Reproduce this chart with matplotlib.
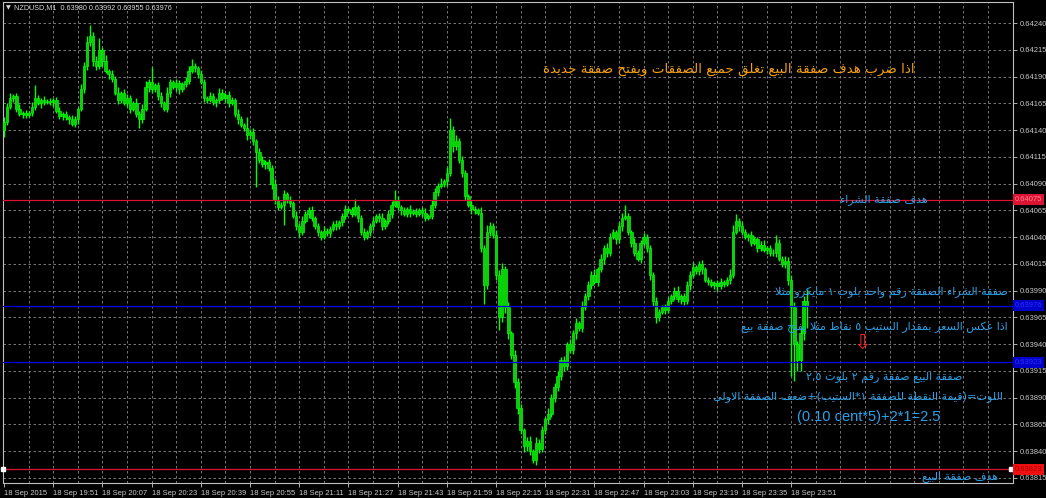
import re
import numpy as np
import matplotlib
matplotlib.use('Agg')
import matplotlib.pyplot as plt

# NZDUSD M1, 18 Sep 2015 19:35 .. 23:56, prices in points (1e-5)
closes = [
    64148, 64162, 64170, 64172, 64160, 64155, 64156, 64154, 64156, 64162,
    64170, 64165, 64168, 64166, 64167, 64166, 64168, 64158, 64153, 64155,
    64152, 64150, 64146, 64150, 64160, 64178, 64200, 64222, 64228, 64205,
    64200, 64215, 64205, 64195, 64192, 64188, 64175, 64168, 64175, 64165,
    64170, 64160, 64165, 64155, 64150, 64160, 64180, 64185, 64178, 64182,
    64172, 64165, 64160, 64175, 64185, 64180, 64184, 64178, 64183, 64186,
    64195, 64200, 64198, 64192, 64185, 64170, 64168, 64172, 64166, 64168,
    64175, 64170, 64173, 64165, 64168, 64155, 64150, 64145, 64142, 64135,
    64138, 64130, 64120, 64112, 64108, 64110, 64105, 64090, 64075, 64068,
    64070, 64080, 64075, 64072, 64060, 64050, 64045, 64055, 64062, 64065,
    64058, 64050, 64045, 64040, 64046, 64044, 64048, 64052, 64050, 64054,
    64060, 64066, 64065, 64062, 64068, 64058, 64045, 64040, 64045, 64050,
    64055, 64060, 64058, 64050, 64055, 64062, 64070, 64075, 64068, 64065,
    64062, 64066, 64063, 64064, 64062, 64065, 64063, 64058, 64060, 64070,
    64082, 64088, 64090, 64092, 64100, 64140, 64125, 64130, 64112, 64100,
    64078, 64070, 64066, 64065, 64063, 64030, 63995, 64045, 64050, 64042,
    64005, 63965, 64010, 63975, 63950, 63930, 63905, 63880, 63860, 63845,
    63850, 63840, 63832, 63848, 63842, 63860, 63870, 63875, 63890, 63900,
    63910, 63925, 63920, 63940, 63935, 63950, 63960, 63955, 63975, 63985,
    63995, 64005, 63998, 64010, 64020, 64030, 64025, 64040, 64045, 64038,
    64050, 64058, 64060, 64045, 64035, 64025, 64020, 64035, 64040, 64030,
    64005, 63980, 63965, 63970, 63975, 63972, 63980, 63985, 63990, 63982,
    63985, 63980, 63995, 64005, 64012, 64008, 64015, 64010, 64000, 63998,
    63995, 63997, 63994, 63998, 63996, 64000, 64005, 64045, 64055, 64050,
    64045, 64040, 64042, 64035, 64038, 64030, 64033, 64028, 64030, 64025,
    64025, 64035, 64020, 64015, 64018, 64000, 63975, 63940, 63925, 63950,
    63980, 63976,
]
up_wick = [
    4, 3, 5, 2, 3, 4, 2, 3, 2, 4,
    12, 3, 2, 4, 2, 3, 2, 3, 4, 2,
    3, 2, 4, 3, 2, 5, 4, 6, 10, 4,
    4, 11, 3, 5, 2, 4, 3, 5, 2, 3,
    4, 3, 2, 5, 3, 4, 6, 3, 14, 2,
    3, 4, 2, 5, 3, 2, 4, 3, 2, 4,
    5, 6, 3, 2, 4, 3, 2, 4, 3, 2,
    4, 3, 2, 4, 3, 2, 5, 3, 2, 10,
    3, 4, 2, 3, 4, 2, 3, 2, 4, 3,
    3, 4, 2, 3, 2, 4, 3, 5, 2, 3,
    4, 2, 3, 2, 4, 3, 2, 3, 4, 2,
    3, 4, 2, 3, 8, 2, 3, 4, 2, 3,
    4, 2, 3, 5, 2, 3, 4, 9, 3, 2,
    3, 2, 4, 2, 3, 2, 3, 4, 2, 5,
    4, 3, 5, 2, 6, 11, 4, 5, 3, 4,
    3, 2, 4, 3, 2, 5, 3, 6, 4, 3,
    5, 4, 6, 3, 4, 2, 5, 3, 4, 2,
    3, 4, 2, 5, 3, 4, 2, 5, 3, 4,
    5, 3, 4, 2, 5, 3, 4, 2, 5, 3,
    4, 3, 5, 2, 4, 3, 5, 4, 3, 2,
    4, 5, 10, 3, 2, 4, 3, 2, 4, 3,
    3, 2, 4, 3, 2, 3, 4, 2, 3, 4,
    2, 3, 4, 3, 5, 2, 3, 4, 2, 3,
    3, 2, 3, 4, 2, 3, 5, 6, 7, 3,
    4, 3, 2, 4, 3, 2, 3, 4, 2, 3,
    4, 7, 3, 2, 4, 3, 5, 4, 3, 6,
    5, 12,
]
dn_wick = [
    6, 3, 2, 4, 3, 2, 4, 3, 2, 3,
    3, 2, 4, 3, 2, 3, 4, 2, 3, 4,
    3, 4, 2, 3, 4, 2, 3, 4, 3, 5,
    4, 3, 5, 2, 4, 3, 2, 4, 3, 2,
    3, 4, 2, 3, 8, 3, 2, 4, 3, 2,
    4, 3, 2, 3, 4, 2, 3, 4, 2, 3,
    3, 2, 4, 3, 2, 4, 3, 2, 3, 4,
    3, 2, 4, 3, 2, 3, 4, 2, 3, 4,
    3, 4, 33, 3, 2, 4, 3, 5, 4, 3,
    2, 19, 3, 4, 2, 3, 5, 3, 2, 4,
    3, 2, 4, 3, 2, 3, 4, 2, 3, 2,
    4, 3, 2, 3, 2, 4, 3, 3, 2, 4,
    3, 2, 4, 3, 2, 3, 4, 2, 3, 4,
    2, 3, 4, 2, 3, 2, 4, 3, 2, 3,
    3, 4, 2, 3, 4, 3, 5, 4, 3, 4,
    3, 2, 4, 3, 2, 4, 17, 3, 4, 3,
    5, 12, 4, 6, 5, 4, 6, 5, 4, 6,
    5, 4, 3, 5, 4, 3, 4, 5, 3, 4,
    4, 3, 5, 4, 3, 4, 5, 3, 4, 3,
    4, 3, 2, 4, 3, 5, 4, 3, 2, 4,
    3, 4, 2, 3, 4, 3, 2, 4, 3, 4,
    5, 4, 5, 3, 2, 4, 3, 2, 4, 3,
    4, 3, 2, 4, 3, 2, 3, 4, 2, 3,
    2, 3, 4, 2, 3, 2, 4, 3, 2, 4,
    3, 2, 4, 3, 2, 4, 3, 2, 4, 3,
    3, 4, 2, 3, 4, 5, 65, 34, 10, 10,
    6, 21,
]
first_open = 64140

time_labels = ['18 Sep 2015', '18 Sep 19:51', '18 Sep 20:07', '18 Sep 20:23', '18 Sep 20:39',
               '18 Sep 20:55', '18 Sep 21:11', '18 Sep 21:27', '18 Sep 21:43', '18 Sep 21:59',
               '18 Sep 22:15', '18 Sep 22:31', '18 Sep 22:47', '18 Sep 23:03', '18 Sep 23:19',
               '18 Sep 23:35', '18 Sep 23:51']
price_ticks = [0.63815, 0.63840, 0.63865, 0.63890, 0.63915, 0.63940, 0.63965, 0.63990, 0.64015,
               0.64040, 0.64065, 0.64090, 0.64115, 0.64140, 0.64165, 0.64190, 0.64215, 0.64240]

buy_target = 0.64075
sell_target = 0.63823
buy_entry = 0.63976
sell_entry = 0.63923

header = 'NZDUSD,M1  0.63980 0.63992 0.63955 0.63976'
t_orange = 'اذا ضرب هدف صفقة البيع تغلق جميع الصفقات ويفتح صفقة جديدة'
t_buy_target = 'هدف صفقة الشراء'
t_buy = 'صفقة الشراء الصفقة رقم واحد بلوت ١ مايكرو مثلا'
t_rev = 'اذا عكس السعر بمقدار الستيب ٥ نقاط مثلا يفتح صفقة بيع'
t_sell = 'صفقة البيع صفقة رقم ٢ بلوت ٢,٥'
t_lot = 'اللوت=(قيمة النقطة للصفقة ١*الستيب)+ضعف الصفقة الاولى'
t_calc = '(0.10 cent*5)+2*1=2.5'
t_sell_target = 'هدف صفقة البيع'

assert len(closes) == len(up_wick) == len(dn_wick)

# --- minimal arabic shaping (presentation forms) + right-to-left ordering
ARABIC = {
    '\u0621': (0xFE80, 0), '\u0622': (0xFE81, 1), '\u0623': (0xFE83, 1), '\u0624': (0xFE85, 1),
    '\u0625': (0xFE87, 1), '\u0626': (0xFE89, 2), '\u0627': (0xFE8D, 1), '\u0628': (0xFE8F, 2),
    '\u0629': (0xFE93, 1), '\u062A': (0xFE95, 2), '\u062B': (0xFE99, 2), '\u062C': (0xFE9D, 2),
    '\u062D': (0xFEA1, 2), '\u062E': (0xFEA5, 2), '\u062F': (0xFEA9, 1), '\u0630': (0xFEAB, 1),
    '\u0631': (0xFEAD, 1), '\u0632': (0xFEAF, 1), '\u0633': (0xFEB1, 2), '\u0634': (0xFEB5, 2),
    '\u0635': (0xFEB9, 2), '\u0636': (0xFEBD, 2), '\u0637': (0xFEC1, 2), '\u0638': (0xFEC5, 2),
    '\u0639': (0xFEC9, 2), '\u063A': (0xFECD, 2), '\u0641': (0xFED1, 2), '\u0642': (0xFED5, 2),
    '\u0643': (0xFED9, 2), '\u0644': (0xFEDD, 2), '\u0645': (0xFEE1, 2), '\u0646': (0xFEE5, 2),
    '\u0647': (0xFEE9, 2), '\u0648': (0xFEED, 1), '\u0649': (0xFEEF, 1), '\u064A': (0xFEF1, 2),
}
LAM_ALEF = {'\u0627': 0xFEFB, '\u0623': 0xFEF7, '\u0625': 0xFEF9, '\u0622': 0xFEF5}


def shape(s):
    out = []
    i = 0
    while i < len(s):
        ch = s[i]
        if ch not in ARABIC:
            out.append(ch)
            i += 1
            continue
        prev = s[i - 1] if i > 0 else ''
        join_prev = prev in ARABIC and ARABIC[prev][1] == 2
        if ch == '\u0644' and i + 1 < len(s) and s[i + 1] in LAM_ALEF:
            out.append(chr(LAM_ALEF[s[i + 1]] + (1 if join_prev else 0)))
            i += 2
            continue
        base, kind = ARABIC[ch]
        nxt = s[i + 1] if i + 1 < len(s) else ''
        join_next = kind == 2 and nxt in ARABIC
        if kind == 0:
            form = base
        elif join_prev and join_next:
            form = base + 3
        elif join_prev:
            form = base + 1
        elif join_next:
            form = base + 2
        else:
            form = base
        out.append(chr(form))
        i += 1
    vis = ''.join(out)[::-1].translate(str.maketrans('()', ')('))
    vis = re.sub(r'[0-9\u0660-\u0669][0-9\u0660-\u0669.,]*[0-9\u0660-\u0669]',
                 lambda m: m.group(0)[::-1], vis)
    return vis


W, H = 1046, 498
fig = plt.figure(figsize=(W / 100, H / 100), dpi=100, facecolor='black')
ax = fig.add_axes([3 / W, 1 - 483 / H, 1010 / W, 481 / H])
ax.set_facecolor('black')

c = np.array(closes) / 1e5
o = np.array([first_open] + closes[:-1]) / 1e5
hi = np.maximum(o, c) + np.array(up_wick) / 1e5
lo = np.minimum(o, c) - np.array(dn_wick) / 1e5
x = np.arange(len(c))

ax.set_xlim(-0.35, -0.35 + 1010 / 3.075)
ax.set_ylim(0.638103, 0.642597)

grid_kw = dict(color='#8a8a8a', lw=0.6, ls=(0, (3, 3)), zorder=1)
for xv in range(8, 330, 8):
    ax.axvline(xv, **grid_kw)
for yv in price_ticks:
    ax.axhline(yv, **grid_kw)

ax.vlines(x, lo, hi, color='#00ff00', lw=1.0, zorder=3)
ax.bar(x, np.maximum(np.abs(c - o), 0.5e-5), bottom=np.minimum(o, c), width=0.78,
       color='#12c812', edgecolor='#00ff00', linewidth=0.5, zorder=3)

ax.axhline(buy_target, color='#dc1434', lw=0.9, zorder=4)
ax.axhline(sell_target, color='#dc1434', lw=0.9, zorder=4)
ax.axhline(buy_entry, color='#0000e6', lw=0.9, zorder=4)
ax.axhline(sell_entry, color='#0000e6', lw=0.9, zorder=4)
ax.plot([0.0, 0.998], [sell_target, sell_target], 's', ms=2.5, color='white',
        transform=ax.get_yaxis_transform(), clip_on=False, zorder=5)

for v, fc, tc in [(buy_target, '#dc1434', '#ff8090'), (sell_target, '#ee1010', '#b00000'),
                  (buy_entry, '#0000c8', '#3030ff'), (sell_entry, '#0000c8', '#3030ff')]:
    ax.text(1.002, v, f'{v:.5f}', transform=ax.get_yaxis_transform(), ha='left', va='center',
            fontsize=5.5, family='Liberation Sans', color=tc, clip_on=False, zorder=6,
            bbox=dict(boxstyle='square,pad=0.25', fc=fc, ec='none'))

ax.yaxis.tick_right()
ax.set_yticks(price_ticks, [f'{v:.5f}' for v in price_ticks])
ax.set_xticks(range(0, 16 * len(time_labels), 16), time_labels)
for lbl in ax.get_xticklabels():
    lbl.set_ha('left')
ax.tick_params(axis='both', colors='#c8c8c8', length=3, width=0.6, labelsize=5.5, pad=2)
for lbl in ax.get_xticklabels() + ax.get_yticklabels():
    lbl.set_family('Liberation Sans')
for sp in ax.spines.values():
    sp.set_color('#c0c0c0')
    sp.set_linewidth(0.8)

fig.text(8 / W, 1 - 8 / H, '▼', color='#d8d8d8', fontsize=4.5, ha='center', va='center')
fig.text(14 / W, 1 - 8 / H, header, color='#d8d8d8', fontsize=5.2, family='Liberation Sans',
         ha='left', va='center')


def px(xp, yp):
    return xp / W, 1 - yp / H


blue = '#2aa2ea'
fig.text(*px(915, 69), shape(t_orange), color='#f5a010', fontsize=9.7, family='DejaVu Sans',
         ha='right', va='center')
fig.text(*px(928, 200), shape(t_buy_target), color=blue, fontsize=8, ha='right', va='center')
fig.text(*px(1008, 292), shape(t_buy), color=blue, fontsize=8, ha='right', va='center')
fig.text(*px(1008, 327), shape(t_rev), color=blue, fontsize=8, ha='right', va='center')
fig.text(*px(862, 343), '⇩', color='#ff2020', fontsize=15, ha='center', va='center')
fig.text(*px(962, 377), shape(t_sell), color=blue, fontsize=8, ha='right', va='center')
fig.text(*px(1003, 397), shape(t_lot), color=blue, fontsize=8, ha='right', va='center')
fig.text(*px(797, 417), t_calc, color=blue, fontsize=10.5, family='Liberation Sans',
         ha='left', va='center')
fig.text(*px(998, 477), shape(t_sell_target), color=blue, fontsize=8, ha='right', va='center')

fig.savefig('out.png', dpi=100, facecolor='black')
